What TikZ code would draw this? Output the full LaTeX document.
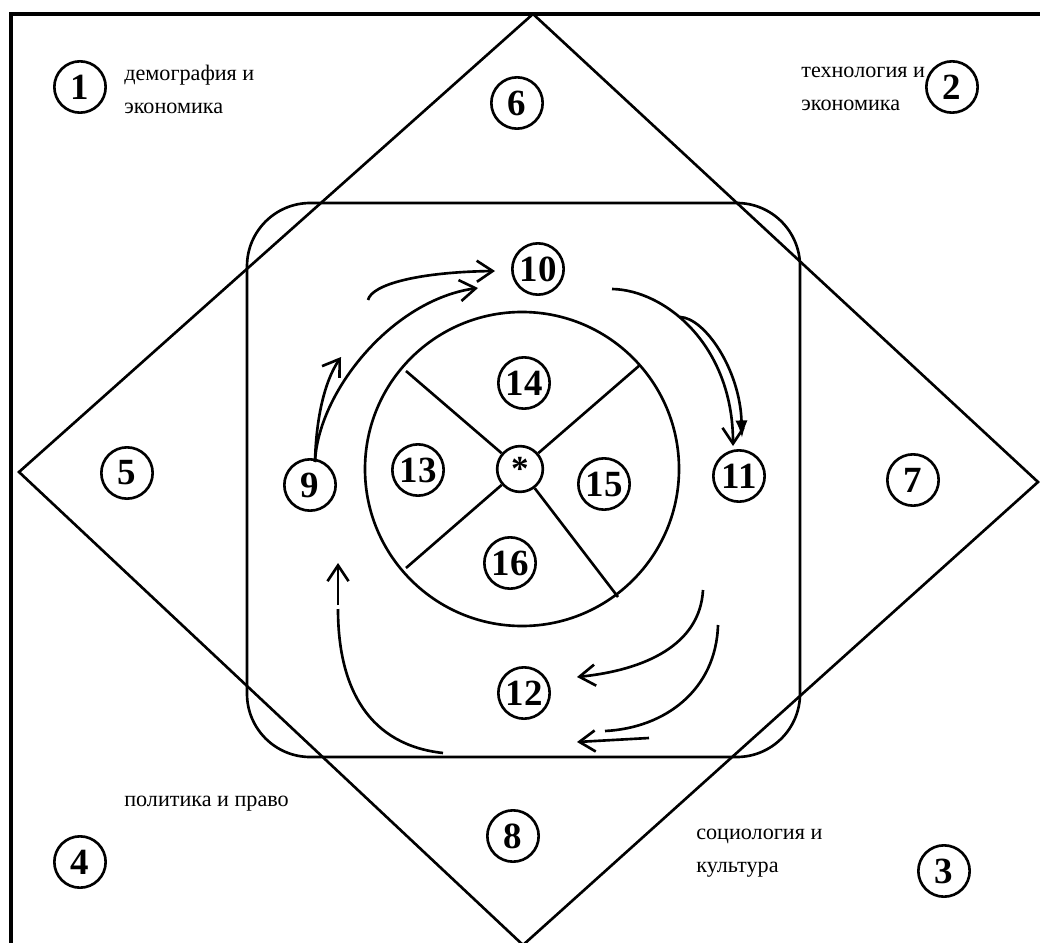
\documentclass[tikz,border=0pt]{standalone}
\usepackage{fontspec}
\setmainfont{Liberation Serif}
\usetikzlibrary{arrows.meta}
\begin{document}
\begin{tikzpicture}[x=0.01cm,y=-0.01cm,line width=0.75pt,
  num/.style={draw,circle,minimum size=14.6pt,inner sep=0pt,font=\fontsize{10.5}{11}\selectfont\bfseries},
  lbl/.style={anchor=west,align=left,inner sep=0pt,font=\fontsize{6.3}{9.4}\selectfont},
  arr/.style={-{Straight Barb[length=4.5pt,width=6pt]}},
  arrf/.style={-{Latex[length=5pt,width=3.5pt]}}]
\useasboundingbox (0,0) rectangle (1040,943);
% frame
\draw[line width=0.9pt] (11,943) -- (11,14) -- (1040,14);
% diamond
\draw (533,14) -- (1038,482) -- (523,945) -- (19,472) -- cycle;
% rounded square
\draw[rounded corners=18pt] (247,203) rectangle (800,757);
% big circle
\draw (522,469) circle[radius=157];
% numbered nodes
\node[num] (n1) at (80,87) {1};
\node[num] (n2) at (952,87) {2};
\node[num] (n3) at (944,871) {3};
\node[num] (n4) at (80,862) {4};
\node[num] (n5) at (127,473) {5};
\node[num] (n6) at (517,103) {6};
\node[num] (n7) at (913,480) {7};
\node[num] (n8) at (513,836) {8};
\node[num] (n9) at (310,485) {9};
\node[num] (n10) at (538,269) {10};
\node[num] (n11) at (739,476) {11};
\node[num] (n12) at (524,693) {12};
\node[num] (n13) at (418,470) {13};
\node[num] (n14) at (524,383) {14};
\node[num] (n15) at (604,484) {15};
\node[num] (n16) at (510,563) {16};
\node[num,minimum size=13pt,font=\fontsize{10}{10}\selectfont\bfseries] (st) at (520,469) {\raisebox{-0.45ex}{*}};
% labels
\node[lbl] (t1) at (123,89) {демография и\\экономика};
\node[lbl] (t2) at (800,89) {технология и\\экономика};
\node[lbl] (t4) at (123,804) {политика и право};
\node[lbl] (t3) at (695,853) {социология и\\культура};
% cross lines
\coordinate (c1) at (406,371);
\coordinate (c2) at (640,365);
\coordinate (c3) at (406,568);
\coordinate (c4) at (618,597);
\draw (st) -- (c1);
\draw (st) -- (c2);
\draw (st) -- (c3);
\draw (st) -- (c4);
% arrows 9 -> 10
\coordinate (a1s) at (368,300);
\coordinate (a1e) at (495,271);
\draw[arr] (a1s) .. controls (372,284) and (420,272) .. (a1e);
\coordinate (b1s) at (315,462);
\coordinate (b1e) at (478,288);
\draw[arr] (b1s) .. controls (318,392) and (392,300) .. (b1e);
\coordinate (c1e) at (341,357);
\draw[arr] (b1s) .. controls (316,420) and (324,382) .. (c1e);
% arrows 10 -> 11
\coordinate (d1s) at (612,289);
\coordinate (d1e) at (733,446);
\draw[arr] (d1s) .. controls (665,290) and (733,345) .. (d1e);
\coordinate (e1s) at (680,317);
\coordinate (e1e) at (742,438);
\draw[arrf] (e1s) .. controls (705,318) and (740,370) .. (e1e);
% arrows 11 -> 12
\coordinate (f1s) at (703,590);
\coordinate (f1e) at (577,677);
\draw[arr] (f1s) .. controls (700,645) and (645,670) .. (f1e);
\coordinate (g1s) at (718,625);
\coordinate (g1e) at (605,731);
\draw (g1s) .. controls (716,690) and (665,728) .. (g1e);
\coordinate (h1s) at (649,738);
\coordinate (h1e) at (577,742);
\draw[arr] (h1s) -- (h1e);
% arrow 12 -> 9
\coordinate (i1s) at (443,753);
\coordinate (i1m) at (338,609);
\draw (i1s) .. controls (370,745) and (338,690) .. (i1m);
\coordinate (j1s) at (338,605);
\coordinate (j1e) at (338,563);
\draw[arr] (j1s) -- (j1e);
\end{tikzpicture}
\end{document}
